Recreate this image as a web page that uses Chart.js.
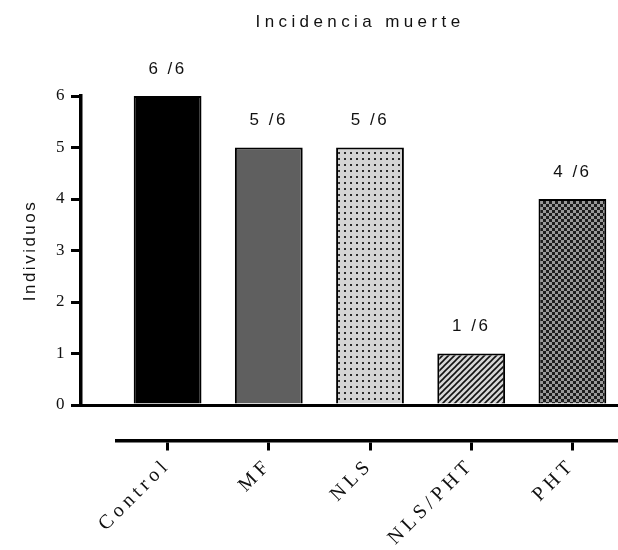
<!DOCTYPE html>
<html lang="es">
<head>
    <meta charset="UTF-8">
    <title>Incidencia muerte</title>
    <style>
        body {
            margin: 0;
            background: #fff;
            overflow: hidden;
        }
        #wrap {
            width: 624px;
            height: 550px;
        }
    </style>
</head>
<body>
    <div id="wrap">
        <canvas id="chart" width="624" height="550"></canvas>
    </div>

    <script src="https://cdn.jsdelivr.net/npm/chart.js"></script>
    <script>
        const grupos = ['Control', 'MF', 'NLS', 'NLS/PHT', 'PHT'];
        const muertes = [6, 5, 5, 1, 4];
        const totales = [6, 6, 6, 6, 6];
        const yTicks = [0, 1, 2, 3, 4, 5, 6];

        const ctx = document.getElementById('chart').getContext('2d');

        // small tile patterns for the bar fills
        function tile(size, paint) {
            const c = document.createElement('canvas');
            c.width = size;
            c.height = size;
            paint(c.getContext('2d'), size);
            return ctx.createPattern(c, 'repeat');
        }

        const puntos = tile(6, (g, s) => {
            g.fillStyle = '#d4d4d4';
            g.fillRect(0, 0, s, s);
            g.fillStyle = '#2a2a2a';
            g.fillRect(2, 2, 2, 2);
        });

        const rayas = tile(6, (g, s) => {
            g.fillStyle = '#d6d6d6';
            g.fillRect(0, 0, s, s);
            g.strokeStyle = '#111';
            g.lineWidth = 1.6;
            g.beginPath();
            g.moveTo(-1, s + 1); g.lineTo(s + 1, -1);
            g.moveTo(-1, 1); g.lineTo(1, -1);
            g.moveTo(s - 1, s + 1); g.lineTo(s + 1, s - 1);
            g.stroke();
        });

        const damero = tile(6, (g, s) => {
            g.fillStyle = '#999';
            g.fillRect(0, 0, s, s);
            g.fillStyle = '#1e1e1e';
            g.fillRect(0, 0, 3, 3);
            g.fillRect(3, 3, 3, 3);
        });

        const rellenos = ['#000', '#5f5f5f', puntos, rayas, damero];

        const soloCero = c => c.tick && c.tick.value === 0 ? '#000' : 'rgba(0,0,0,0)';

        const estilo = {
            id: 'estilo',
            beforeDraw(chart) {
                chart.ctx.letterSpacing = '2.5px';
            },
            afterDatasetsDraw(chart) {
                const c = chart.ctx;
                const meta = chart.getDatasetMeta(0);
                c.save();
                c.font = '17px "Liberation Sans", Arial, sans-serif';
                c.fillStyle = '#111';
                c.textAlign = 'center';
                c.textBaseline = 'middle';

                // title
                c.letterSpacing = '4.4px';
                c.fillText('Incidencia muerte', 360, 22);

                // counts over each bar
                c.letterSpacing = '2.5px';
                meta.data.forEach((bar, i) => {
                    c.fillText(muertes[i] + ' /' + totales[i], bar.x, bar.y - 27);
                });
                c.restore();
                // category labels are drawn after this (ticks z = 1)
                c.letterSpacing = '4.5px';
            },
            afterDraw(chart) {
                chart.ctx.letterSpacing = '0px';
            }
        };

        new Chart(ctx, {
            type: 'bar',
            data: {
                labels: grupos,
                datasets: [{
                    data: muertes,
                    xAxisID: 'x',
                    yAxisID: 'y',
                    backgroundColor: rellenos,
                    borderColor: '#000',
                    borderWidth: 2,
                    borderSkipped: 'start',
                    barPercentage: 0.67,
                    categoryPercentage: 1
                }]
            },
            options: {
                responsive: false,
                animation: false,
                events: [],
                layout: {
                    padding: { top: 96, right: 1, bottom: 0, left: 0 }
                },
                plugins: {
                    legend: { display: false },
                    title: { display: false },
                    tooltip: { enabled: false }
                },
                scales: {
                    x: {
                        type: 'category',
                        position: 'bottom',
                        weight: 0,
                        offset: true,
                        grid: { display: false, drawTicks: false },
                        border: { display: false },
                        ticks: { display: false },
                        afterFit(s) {
                            s.height = 35.5;
                            s.paddingLeft = 0;
                            s.paddingRight = 0;
                        }
                    },
                    x2: {
                        type: 'category',
                        labels: grupos,
                        position: 'bottom',
                        weight: 1,
                        offset: true,
                        grid: {
                            drawOnChartArea: false,
                            offset: false,
                            color: '#000',
                            lineWidth: 3,
                            tickLength: 10,
                            tickWidth: 3
                        },
                        border: { display: true, color: '#000', width: 3.5 },
                        ticks: {
                            z: 1,
                            autoSkip: false,
                            minRotation: 45,
                            maxRotation: 45,
                            padding: 3,
                            color: '#111',
                            font: { family: '"Liberation Serif", "Times New Roman", serif', size: 20 }
                        },
                        afterFit(s) {
                            s.height = 109.5;
                            s.paddingLeft = 0;
                            s.paddingRight = 0;
                        }
                    },
                    y: {
                        type: 'linear',
                        position: 'left',
                        weight: 0,
                        min: 0,
                        max: 6,
                        ticks: { display: false, stepSize: 1 },
                        border: { display: false },
                        grid: {
                            z: 1,
                            drawOnChartArea: true,
                            drawTicks: true,
                            tickLength: 36,
                            color: soloCero,
                            lineWidth: 3
                        },
                        afterFit(s) {
                            s.width = 36;
                            s.paddingTop = 0;
                            s.paddingBottom = 0;
                        }
                    },
                    y2: {
                        type: 'linear',
                        position: 'left',
                        weight: 1,
                        min: 0,
                        max: 6,
                        afterBuildTicks(s) {
                            s.ticks = yTicks.map(v => ({ value: v }));
                        },
                        grid: {
                            drawOnChartArea: false,
                            color: '#000',
                            lineWidth: 3,
                            tickLength: 10,
                            tickWidth: 3
                        },
                        border: { display: true, color: '#000', width: 3.5 },
                        ticks: {
                            padding: 4,
                            color: '#111',
                            font: { family: '"Liberation Serif", "Times New Roman", serif', size: 17 }
                        },
                        title: {
                            display: true,
                            text: 'Individuos',
                            color: '#111',
                            padding: { top: 20, bottom: 0 },
                            font: { family: '"Liberation Sans", Arial, sans-serif', size: 17 }
                        },
                        afterFit(s) {
                            s.width = 81;
                            s.paddingTop = 0;
                            s.paddingBottom = 0;
                        }
                    }
                }
            },
            plugins: [estilo]
        });
    </script>
</body>
</html>
